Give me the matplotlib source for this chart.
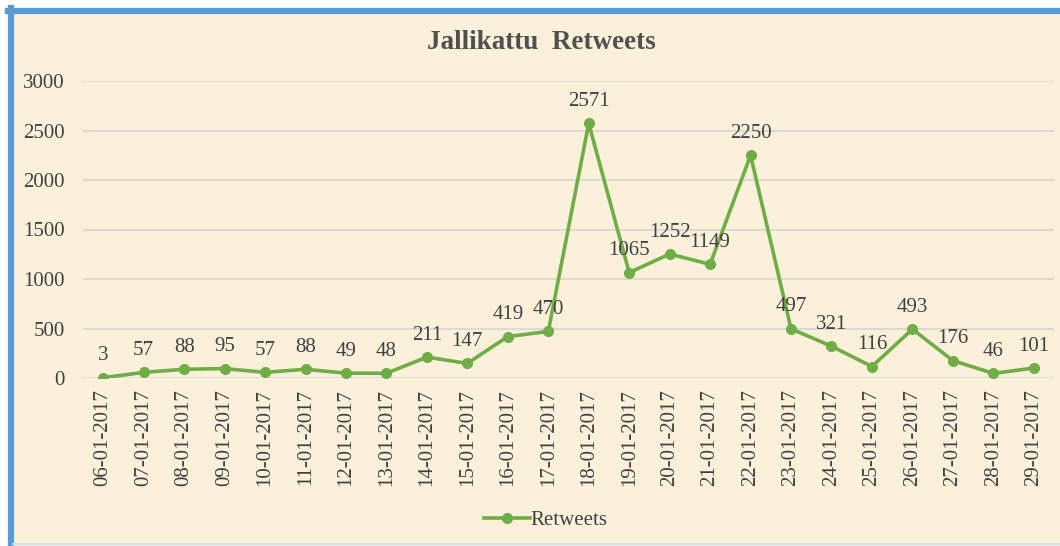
#!/usr/bin/env python3
"""Jallikattu retweets per day, January 2017."""
import matplotlib
matplotlib.use('Agg')
import matplotlib.pyplot as plt
from matplotlib.patches import Rectangle
from matplotlib.lines import Line2D

dates = ['06-01-2017', '07-01-2017', '08-01-2017', '09-01-2017', '10-01-2017',
         '11-01-2017', '12-01-2017', '13-01-2017', '14-01-2017', '15-01-2017',
         '16-01-2017', '17-01-2017', '18-01-2017', '19-01-2017', '20-01-2017',
         '21-01-2017', '22-01-2017', '23-01-2017', '24-01-2017', '25-01-2017',
         '26-01-2017', '27-01-2017', '28-01-2017', '29-01-2017']
retweets = [3, 57, 88, 95, 57, 88, 49, 48, 211, 147, 419, 470, 2571, 1065,
            1252, 1149, 2250, 497, 321, 116, 493, 176, 46, 101]
yticks = [0, 500, 1000, 1500, 2000, 2500, 3000]

GREEN = '#70AD47'
TEXT = '#404040'
BG = '#FBF1DB'
BLUE = '#5B9BD5'

plt.rcParams.update({
    'font.family': ['Liberation Serif', 'DejaVu Serif'],
    'font.size': 15,
})

W, H = 1060, 546
fig = plt.figure(figsize=(W / 100, H / 100), dpi=100, facecolor='white')

# cream panel with blue frame on the left and top
fig.patches.append(Rectangle((10 / W, 0), 1 - 10 / W, 1 - 10 / H,
                             transform=fig.transFigure, facecolor=BG,
                             edgecolor='none', zorder=-2))
fig.add_artist(Line2D([10.5 / W, 10.5 / W], [2 / H, 1 - 8 / H],
                      transform=fig.transFigure, color=BLUE, linewidth=4.5))
fig.add_artist(Line2D([8 / W, 1], [1 - 10.5 / H, 1 - 10.5 / H],
                      transform=fig.transFigure, color=BLUE, linewidth=4.5))
fig.add_artist(Line2D([13 / W, 1], [2 / H, 2 / H],
                      transform=fig.transFigure, color='#CFE0F0', linewidth=1.5))

ax = fig.add_axes([83 / W, 1 - 378 / H, (1054 - 83) / W, (378 - 81) / H])
ax.set_facecolor('none')

x = list(range(len(dates)))
ax.plot(x, retweets, color=GREEN, linewidth=2.6, marker='o', markersize=7,
        solid_capstyle='round', zorder=3)
for xi, v in zip(x, retweets):
    ax.annotate(str(v), (xi, v), xytext=(0, 9), textcoords='offset points',
                ha='center', va='bottom', color=TEXT, fontsize=15)

ax.set_xlim(-0.5, len(dates) - 0.5)
ax.set_ylim(0, 3000)
ax.set_yticks(yticks)
ax.set_yticklabels([str(t) for t in yticks], color=TEXT)
ax.set_xticks(x)
ax.set_xticklabels(dates, rotation=90, color=TEXT)
ax.tick_params(axis='both', length=0)
ax.tick_params(axis='y', pad=13)
ax.tick_params(axis='x', pad=8)
ax.grid(axis='y', color='#D6D6D6', linewidth=1.2)
ax.set_axisbelow(True)
for s in ax.spines.values():
    s.set_visible(False)

fig.text(541 / W, 1 - 43 / H, 'Jallikattu  Retweets', ha='center', va='center',
         fontsize=19.5, fontweight='bold', color='#505050')

handle = Line2D([], [], color=GREEN, linewidth=2.6, marker='o', markersize=7)
fig.legend([handle], ['Retweets'], loc='center', bbox_to_anchor=(0.515, 1 - 520 / H),
           frameon=False, handlelength=2.2, handletextpad=0.0, fontsize=15,
           labelcolor=TEXT)

fig.savefig('out.png', dpi=100, facecolor='white')
